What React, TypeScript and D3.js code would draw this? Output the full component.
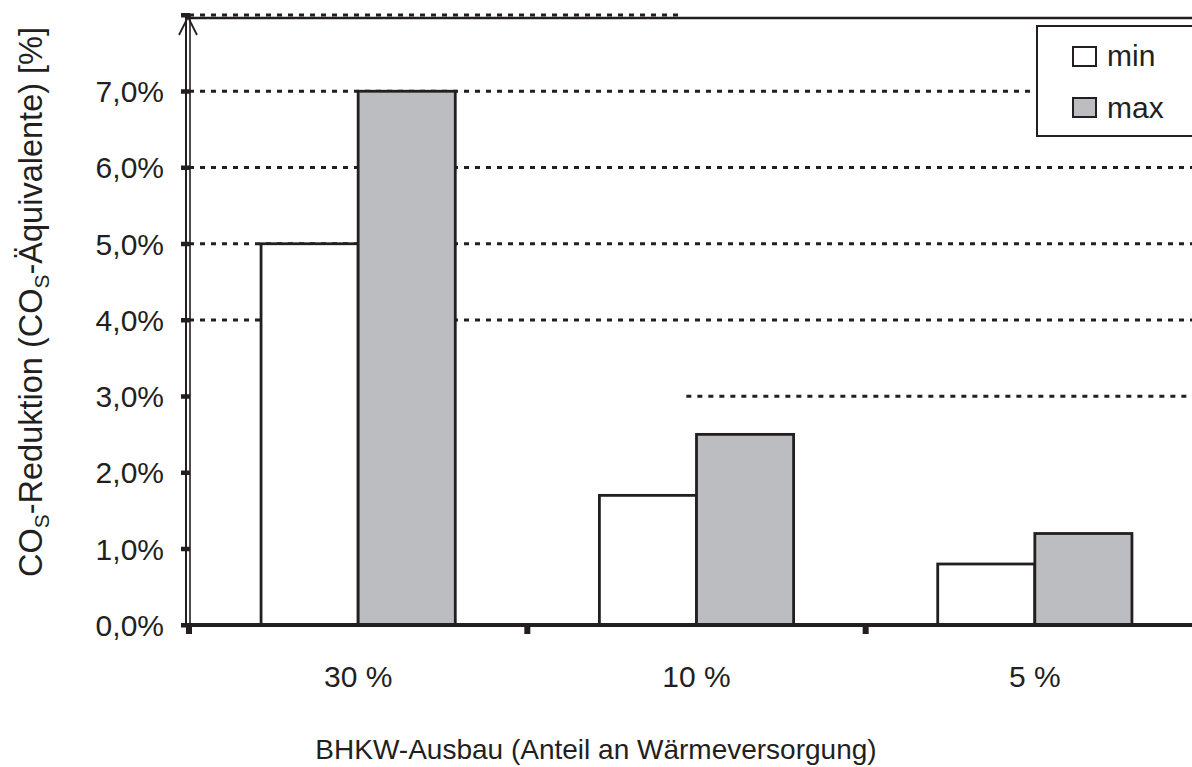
import React from 'react';
import * as d3 from 'd3';

const categories = ['30 %', '10 %', '5 %'];
const seriesNames = ['min', 'max'];
const minValues = [5.0, 1.7, 0.8];
const maxValues = [7.0, 2.5, 1.2];
const yTicks = [0, 1, 2, 3, 4, 5, 6, 7, 8];
const yTickLabels = ['0,0%', '1,0%', '2,0%', '3,0%', '4,0%', '5,0%', '6,0%', '7,0%', ''];
const gridValues = [3, 4, 5, 6, 7, 8];
const xTitle = 'BHKW-Ausbau (Anteil an Wärmeversorgung)';

const W = 1192;
const H = 767;
const INK = '#231f20';
const GRAY = '#bcbdc0';
const FONT = '"Liberation Sans", Arial, Helvetica, sans-serif';

export default function App() {
  const x0 = 189;
  const x1 = 1204;
  const y = d3.scaleLinear().domain([0, 8]).range([625, 15]);
  const xBand = d3.scaleBand<string>().domain(categories).range([x0, x1]).padding(0);
  const xSub = d3
    .scaleBand<string>()
    .domain(seriesNames)
    .range([0, xBand.bandwidth()])
    .paddingInner(0)
    .paddingOuter(0.742);
  const fills: Record<string, string> = { min: '#ffffff', max: GRAY };
  const seriesData: Record<string, number[]> = { min: minValues, max: maxValues };

  // partial extents of some gridlines (fraction of plot width)
  const gridExtent = (v: number): [number, number] => {
    if (v === 3) return [0.49, 1];
    if (v === 8) return [0, 0.482];
    return [0, 1];
  };
  const xf = d3.scaleLinear().domain([0, 1]).range([x0, x1]);

  const bars: JSX.Element[] = [];
  categories.forEach((c, i) => {
    seriesNames.forEach((s) => {
      const v = seriesData[s][i];
      const bx = (xBand(c) as number) + (xSub(s) as number);
      bars.push(
        <rect
          key={c + s}
          x={bx}
          y={y(v)}
          width={xSub.bandwidth()}
          height={y(0) - y(v)}
          fill={fills[s]}
          stroke={INK}
          strokeWidth={2.8}
        />
      );
    });
  });

  const catTicks = [...categories.map((c) => xBand(c) as number), x1];

  return (
    <svg
      width={W}
      height={H}
      style={{ position: 'absolute', left: 0, top: 0, background: '#fff' }}
      fontFamily={FONT}
    >
      <rect x={0} y={0} width={W} height={H} fill="#fff" />
      {/* gridlines */}
      {gridValues.map((v) => {
        const [a, b] = gridExtent(v);
        return (
          <line
            key={'g' + v}
            x1={xf(a)}
            x2={Math.min(xf(b), W)}
            y1={y(v)}
            y2={y(v)}
            stroke={INK}
            strokeWidth={2.8}
            strokeDasharray="5 6"
          />
        );
      })}
      {/* top frame line */}
      <line x1={x0} x2={x1} y1={y(8) + 3} y2={y(8) + 3} stroke={INK} strokeWidth={2.5} />
      {bars}
      {/* x axis */}
      <line x1={x0 - 7} x2={x1} y1={y(0)} y2={y(0)} stroke={INK} strokeWidth={4} />
      {catTicks.map((t, i) => (
        <rect key={'xt' + i} x={t - 3} y={y(0)} width={6} height={9} fill={INK} />
      ))}
      {/* y axis (double line) */}
      <line x1={x0 - 3} x2={x0 - 3} y1={y(8)} y2={y(0)} stroke={INK} strokeWidth={2} />
      <line x1={x0 + 1} x2={x0 + 1} y1={y(8)} y2={y(0)} stroke={INK} strokeWidth={1.6} />
      {/* arrow head */}
      <polyline
        points={`${x0 - 10},${y(8) + 20} ${x0 - 1},${y(8) + 2} ${x0 + 8},${y(8) + 20}`}
        fill="none"
        stroke={INK}
        strokeWidth={1.8}
      />
      {yTicks.map((t) => (
        <rect key={'yt' + t} x={x0 - 8} y={y(t) - 2} width={9} height={4.5} fill={INK} />
      ))}
      {yTicks.map((t, i) => (
        <text
          key={'yl' + t}
          x={164}
          y={y(t)}
          dy="0.36em"
          textAnchor="end"
          fontSize={30}
          fill={INK}
        >
          {yTickLabels[i]}
        </text>
      ))}
      {/* x labels */}
      {categories.map((c) => (
        <text
          key={'xl' + c}
          x={(xBand(c) as number) + xBand.bandwidth() / 2}
          y={687}
          textAnchor="middle"
          fontSize={30}
          fill={INK}
        >
          {c}
        </text>
      ))}
      {/* x title */}
      <text x={596} y={759} textAnchor="middle" fontSize={28} fill={INK}>
        {xTitle}
      </text>
      {/* y title */}
      <text
        transform="translate(42,302) rotate(-90)"
        textAnchor="middle"
        fontSize={32.5}
        fill={INK}
      >
        CO
        <tspan fontSize={21} dy={7}>S</tspan>
        <tspan dy={-7}>-Reduktion (CO</tspan>
        <tspan fontSize={21} dy={7}>S</tspan>
        <tspan dy={-7}>-Äquivalente) [%]</tspan>
      </text>
      {/* legend */}
      <rect x={1037} y={26} width={200} height={110} fill="#fff" stroke={INK} strokeWidth={2} />
      {seriesNames.map((s, i) => (
        <g key={'lg' + s}>
          <rect
            x={1073}
            y={47 + i * 51}
            width={23}
            height={19}
            fill={fills[s]}
            stroke={INK}
            strokeWidth={2}
          />
          <text x={1107} y={66 + i * 52} fontSize={30} fill={INK}>
            {s}
          </text>
        </g>
      ))}
    </svg>
  );
}
